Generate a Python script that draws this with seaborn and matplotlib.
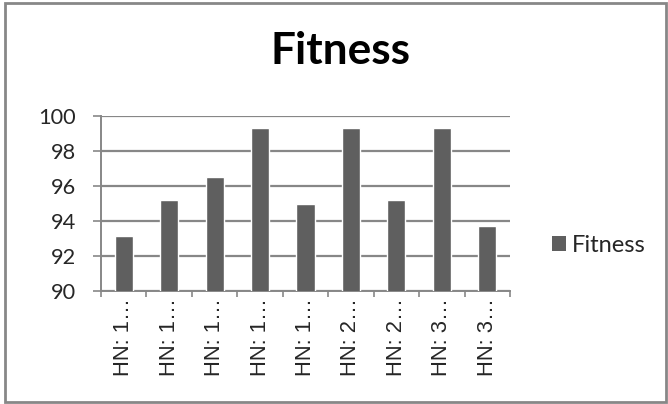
import matplotlib
matplotlib.use("Agg")
import matplotlib.pyplot as plt
import seaborn as sns
import pandas as pd
from matplotlib.patches import Rectangle, Patch
from matplotlib.ticker import FixedLocator, NullFormatter

# Data
categories = ["HN: 1…", "HN: 1… ", "HN: 1…  ", "HN: 1…   ", "HN: 1…    ",
              "HN: 2…", "HN: 2… ", "HN: 3…", "HN: 3… "]
tick_labels = ["HN: 1…", "HN: 1…", "HN: 1…", "HN: 1…", "HN: 1…",
               "HN: 2…", "HN: 2…", "HN: 3…", "HN: 3…"]
fitness = [93.16, 95.22, 96.5, 99.3, 95.0, 99.3, 95.2, 99.3, 93.7]
y_ticks = [90, 92, 94, 96, 98, 100]

df = pd.DataFrame({"run": categories, "Fitness": fitness})

sns.set_theme(style="white")
plt.rcParams["font.family"] = ["Lato", "DejaVu Sans"]

BAR = "#5f5f5f"
GRID = "#878787"

fig = plt.figure(figsize=(6.68, 4.04), dpi=100)
ax = fig.add_axes([101 / 668, 113 / 404, 409 / 668, 175 / 404])

sns.barplot(data=df, x="run", y="Fitness", color=BAR, width=0.4,
            saturation=1, ax=ax, zorder=3)

ax.set_ylim(90, 100)
ax.set_xlim(-0.5, len(categories) - 0.5)
ax.set_yticks(y_ticks)
ax.set_yticklabels([str(t) for t in y_ticks], fontsize=15.7)
ax.set_xticks(range(len(categories)))
ax.set_xticklabels(tick_labels, rotation=90, fontsize=15.8,
                   family=["Liberation Sans", "DejaVu Sans"])
ax.set_xlabel("")
ax.set_ylabel("")

# horizontal gridlines
ax.yaxis.grid(True, color=GRID, linewidth=1.6, zorder=0)
ax.xaxis.grid(False)

# tick marks: y outward, x between categories
ax.tick_params(axis="y", which="major", left=True, length=5.8, width=1.2,
               color=GRID, pad=12)
ax.tick_params(axis="x", which="major", bottom=False, length=0, pad=5)
ax.xaxis.set_minor_locator(FixedLocator([i - 0.5 for i in range(len(categories) + 1)]))
ax.xaxis.set_minor_formatter(NullFormatter())
ax.tick_params(axis="x", which="minor", bottom=True, length=4.3, width=1.2,
               color=GRID)

for side in ["top", "right"]:
    ax.spines[side].set_visible(False)
for side in ["left", "bottom"]:
    ax.spines[side].set_color(GRID)
    ax.spines[side].set_linewidth(1.4)

# title
fig.text(340 / 668, 1 - 51 / 404, "Fitness", ha="center", va="center",
         fontsize=31.9, fontweight="bold", color="black")

# legend
fig.legend(handles=[Patch(facecolor=BAR, edgecolor="none", label="Fitness")],
           loc="center left", bbox_to_anchor=(552 / 668, 1 - 245 / 404),
           frameon=False, fontsize=17, handlelength=0.6, handleheight=0.6,
           handletextpad=0.25, borderpad=0, borderaxespad=0)

# outer chart border
fig.patches.append(Rectangle((5 / 668, 2 / 404), 661 / 668, 399 / 404,
                             transform=fig.transFigure, fill=False,
                             edgecolor=GRID, linewidth=2))

fig.savefig("out.png", dpi=100)
